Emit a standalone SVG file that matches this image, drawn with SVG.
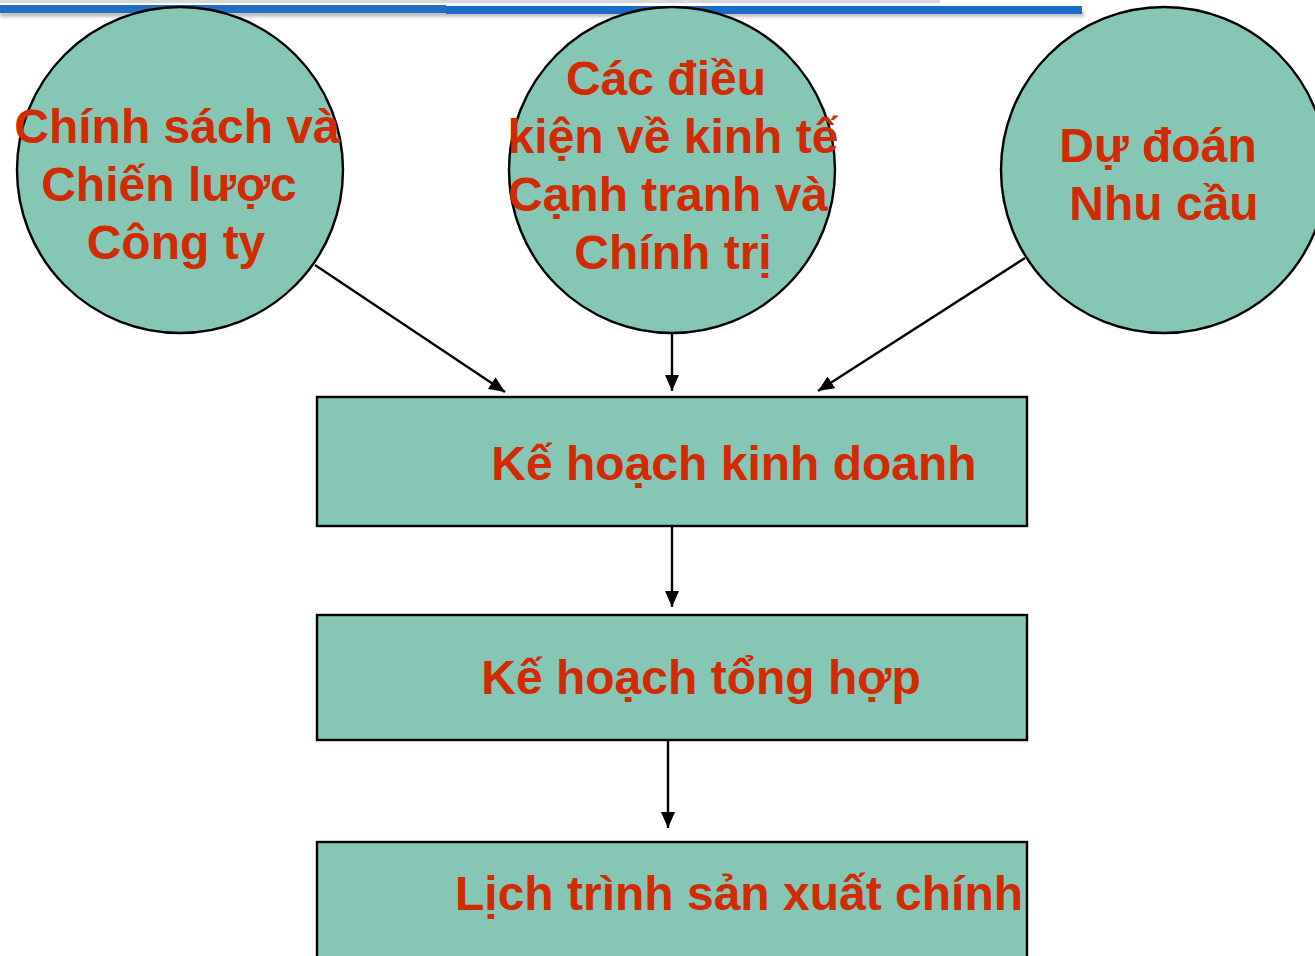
<svg xmlns="http://www.w3.org/2000/svg" width="1315" height="956" viewBox="0 0 1315 956">
  <style>
    .node { fill: #86c6b4; stroke: #000; stroke-width: 2.4; }
    .label { font-family: "Liberation Sans", Arial, sans-serif; font-weight: bold; font-size: 48px; fill: #d22a02; text-anchor: middle; }
    .edge { stroke: #000; stroke-width: 2.4; fill: none; marker-end: url(#arrow); }
  </style>
  <defs>
    <marker id="arrow" viewBox="0 0 16 14" refX="16" refY="7" markerWidth="16" markerHeight="14" markerUnits="userSpaceOnUse" orient="auto">
      <path d="M0,0 L16,7 L0,14 Z" fill="#000"/>
    </marker>
    <filter id="soft" x="-5%" y="-200%" width="110%" height="500%">
      <feGaussianBlur stdDeviation="1.5"/>
    </filter>
  </defs>

  <rect width="1315" height="956" fill="#fff"/>

  <!-- header rule -->
  <g id="header-rule">
    <rect x="0" y="0" width="940" height="3" fill="#d8d8d8"/>
    <rect x="0" y="11" width="1084" height="6" fill="#9a9a9a" filter="url(#soft)" opacity="0.6"/>
    <rect x="0" y="5" width="446" height="8" fill="#1f6fc2"/>
    <rect x="446" y="6" width="636" height="8" fill="#1a6cc6"/>
  </g>

  <!-- connectors -->
  <g id="connectors">
    <line class="edge" x1="315" y1="265" x2="505" y2="392"/>
    <line class="edge" x1="672" y1="333" x2="672" y2="391"/>
    <line class="edge" x1="1025" y1="258" x2="818" y2="391"/>
    <line class="edge" x1="672" y1="526" x2="672" y2="607"/>
    <line class="edge" x1="668" y1="740" x2="668" y2="828"/>
  </g>

  <g id="policy">
    <circle class="node" cx="180" cy="170" r="163"/>
    <text class="label" x="177" y="143">Chính sách và</text>
    <text class="label" x="169" y="201">Chiến lược</text>
    <text class="label" x="176" y="259">Công ty</text>
  </g>

  <g id="conditions">
    <circle class="node" cx="672" cy="170" r="163"/>
    <text class="label" x="666" y="95">Các điều</text>
    <text class="label" x="673" y="153">kiện về kinh tế</text>
    <text class="label" x="668" y="211">Cạnh tranh và</text>
    <text class="label" x="673" y="269">Chính trị</text>
  </g>

  <g id="forecast">
    <circle class="node" cx="1164" cy="170" r="163"/>
    <text class="label" x="1158" y="162">Dự đoán</text>
    <text class="label" x="1164" y="220">Nhu cầu</text>
  </g>

  <g id="business-plan">
    <rect class="node" x="317" y="397" width="710" height="129"/>
    <text class="label" x="734" y="480">Kế hoạch kinh doanh</text>
  </g>

  <g id="aggregate-plan">
    <rect class="node" x="317" y="615" width="710" height="125"/>
    <text class="label" x="701" y="694">Kế hoạch tổng hợp</text>
  </g>

  <g id="master-schedule">
    <rect class="node" x="317" y="842" width="710" height="130"/>
    <text class="label" x="739" y="910">Lịch trình sản xuất chính</text>
  </g>
</svg>
